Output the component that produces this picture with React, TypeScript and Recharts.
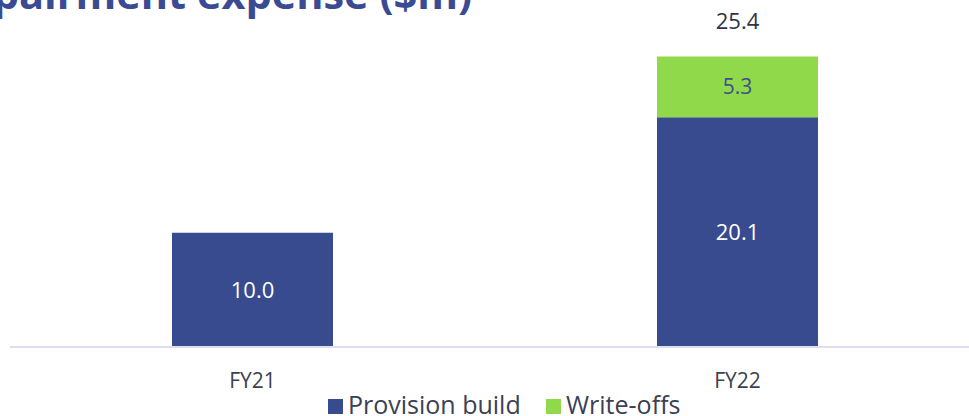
import { Bar, BarChart, LabelList, Legend, XAxis, YAxis } from "recharts";

const categories = ["FY21", "FY22"];
const provisionBuild = [10.0, 20.1];
const writeOffs = [null, 5.3];
const totals = [null, 25.4];

const NAVY = "#384b8f";
const GREEN = "#8fd94a";
const FONT = "'Open Sans', sans-serif";

const data = categories.map((name, i) => ({
    name,
    provision: provisionBuild[i],
    writeOffs: writeOffs[i],
    total: totals[i],
}));

const TotalLabel = (props: any) => {
    const { x, y, width, value } = props;
    if (value == null) return null;
    return (
        <text x={x + width / 2} y={y - 28} textAnchor="middle" fill="#2f3446" fontSize={22} fontFamily={FONT}>
            {Number(value).toFixed(1)}
        </text>
    );
};

const LegendContent = () => (
    <div style={{ position: "relative", height: 39, fontFamily: FONT, fontSize: 25, lineHeight: "25px", color: "#3b4052" }}>
        <span style={{ position: "absolute", left: 318, top: 22, width: 15, height: 15, background: NAVY }} />
        <span style={{ position: "absolute", left: 338, top: 15, whiteSpace: "nowrap" }}>Provision build</span>
        <span style={{ position: "absolute", left: 536, top: 22, width: 15, height: 15, background: GREEN }} />
        <span style={{ position: "absolute", left: 556, top: 15, whiteSpace: "nowrap" }}>Write-offs</span>
    </div>
);

export default function App() {
    return (
        <div style={{ position: "absolute", left: 0, top: 0, width: 969, height: 416, overflow: "hidden", background: "#fff" }}>
            <style>{`body{margin:0}`}</style>
            <BarChart
                width={980}
                height={416}
                data={data}
                margin={{ top: 4, right: 0, bottom: 0, left: 10 }}
                barCategoryGap="33.4%"
            >
                <XAxis
                    dataKey="name"
                    tickLine={false}
                    axisLine={{ stroke: "#dcdff0", strokeWidth: 2 }}
                    tick={{ fill: "#3c4150", fontSize: 21, fontFamily: FONT }}
                    tickMargin={20}
                    height={30}
                />
                <YAxis hide domain={[0, 30]} />
                <Legend verticalAlign="bottom" height={39} content={<LegendContent />} />
                <Bar dataKey="provision" stackId="a" fill={NAVY} isAnimationActive={false}>
                    <LabelList
                        dataKey="provision"
                        position="center"
                        fill="#ffffff"
                        fontSize={22}
                        fontWeight={500}
                        fontFamily={FONT}
                        formatter={(v: any) => Number(v).toFixed(1)}
                    />
                </Bar>
                <Bar dataKey="writeOffs" stackId="a" fill={GREEN} isAnimationActive={false}>
                    <LabelList
                        dataKey="writeOffs"
                        position="center"
                        fill="#3f4f8c"
                        fontSize={21}
                        fontFamily={FONT}
                        formatter={(v: any) => (v == null ? "" : Number(v).toFixed(1))}
                    />
                    <LabelList dataKey="total" content={<TotalLabel />} />
                </Bar>
            </BarChart>
            <svg width={969} height={40} style={{ position: "absolute", left: 0, top: 0, pointerEvents: "none" }}>
                <text x={472} y={9} textAnchor="end" fill="#3a4b94" fontSize={41.5} fontWeight={700} fontFamily={FONT}>
                    Impairment expense ($m)
                </text>
            </svg>
        </div>
    );
}
